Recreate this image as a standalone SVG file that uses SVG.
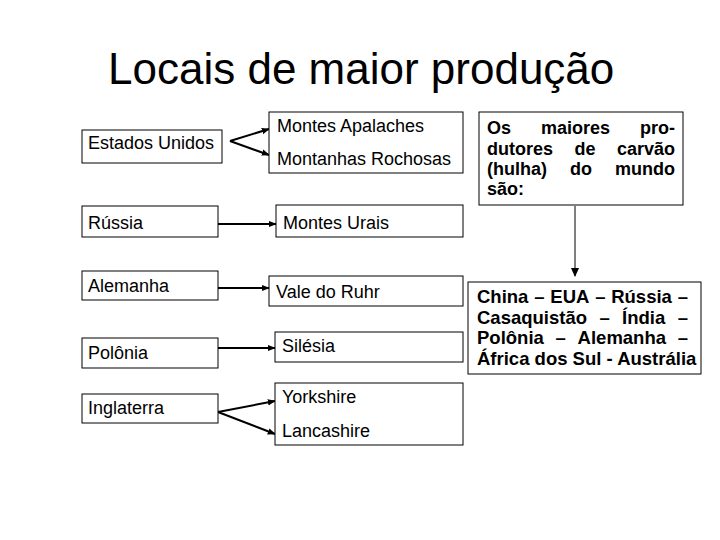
<svg xmlns="http://www.w3.org/2000/svg" width="720" height="540" viewBox="0 0 720 540">
<defs>
<style>
.box{fill:#fff;stroke:#000;stroke-width:1}
.t{font-family:"Liberation Sans",Arial,sans-serif;font-size:18px;fill:#000}
.b{font-family:"Liberation Sans",Arial,sans-serif;font-size:18px;font-weight:bold;fill:#000}
.b2{font-family:"Liberation Sans",Arial,sans-serif;font-size:18.5px;font-weight:bold;fill:#000}
.c{stroke:#000;stroke-width:2;fill:none;marker-end:url(#ah)}
</style>
<marker id="ah" viewBox="0 0 10 10" refX="9" refY="5" markerWidth="4" markerHeight="4" orient="auto" markerUnits="strokeWidth">
<path d="M0,1 L10,5 L0,9 z" fill="#000"/>
</marker>
</defs>
<rect width="720" height="540" fill="#fff"/>
<text x="108" y="84" font-family="Liberation Sans, Arial, sans-serif" font-size="44">Locais de maior produção</text>

<g id="connectors">
<line class="c" x1="230" y1="141" x2="269" y2="129"/>
<line class="c" x1="230" y1="141" x2="269" y2="155"/>
<line class="c" x1="218" y1="224" x2="276" y2="224"/>
<line class="c" x1="218" y1="288" x2="269" y2="288"/>
<line class="c" x1="218" y1="348" x2="275" y2="348"/>
<line class="c" x1="218" y1="412" x2="275" y2="401"/>
<line class="c" x1="218" y1="412" x2="275" y2="434"/>
<line x1="575" y1="206" x2="575" y2="276" stroke="#000" stroke-width="1"/>
<path d="M571,268 L579,268 L575,277 z" fill="#000"/>
</g>

<g id="eua"><rect class="box" x="82" y="130" width="140" height="33"/><text class="t" x="88" y="149">Estados Unidos</text></g>
<g id="eua-montes"><rect class="box" x="269" y="112" width="194" height="61"/><text class="t" x="277" y="132">Montes Apalaches</text><text class="t" x="277" y="165">Montanhas Rochosas</text></g>
<g id="russia"><rect class="box" x="82" y="206" width="136" height="31"/><text class="t" x="88" y="229">Rússia</text></g>
<g id="urais"><rect class="box" x="276" y="205" width="187" height="32"/><text class="t" x="283" y="229">Montes Urais</text></g>
<g id="alemanha"><rect class="box" x="82" y="271" width="136" height="29"/><text class="t" x="88" y="292">Alemanha</text></g>
<g id="ruhr"><rect class="box" x="269" y="276" width="194" height="30"/><text class="t" x="276" y="298">Vale do Ruhr</text></g>
<g id="polonia"><rect class="box" x="82" y="338" width="136" height="30"/><text class="t" x="88" y="359">Polônia</text></g>
<g id="silesia"><rect class="box" x="275" y="332" width="188" height="30"/><text class="t" x="282" y="352">Silésia</text></g>
<g id="inglaterra"><rect class="box" x="82" y="394" width="136" height="29"/><text class="t" x="88" y="414">Inglaterra</text></g>
<g id="ingl-regioes"><rect class="box" x="275" y="383" width="188" height="62"/><text class="t" x="282" y="403">Yorkshire</text><text class="t" x="282" y="437">Lancashire</text></g>

<g id="produtores">
<rect class="box" x="479" y="112" width="204" height="93"/>
<text class="b" y="134"><tspan x="487">Os</tspan><tspan x="541">maiores</tspan><tspan x="640">pro-</tspan></text>
<text class="b" y="155"><tspan x="487">dutores</tspan><tspan x="574.5">de</tspan><tspan x="617">carvão</tspan></text>
<text class="b" y="175"><tspan x="487">(hulha)</tspan><tspan x="570">do</tspan><tspan x="615">mundo</tspan></text>
<text class="b" x="487" y="195">são:</text>
</g>

<g id="lista">
<rect class="box" x="468" y="282" width="233" height="92"/>
<text class="b2" y="303"><tspan x="477">China</tspan><tspan x="534.2">–</tspan><tspan x="550.3">EUA</tspan><tspan x="595.2">–</tspan><tspan x="611.2">Rússia</tspan><tspan x="677.7">–</tspan></text>
<text class="b2" y="324"><tspan x="477">Casaquistão</tspan><tspan x="599.4">–</tspan><tspan x="622.1">Índia</tspan><tspan x="677.7">–</tspan></text>
<text class="b2" y="344"><tspan x="477">Polônia</tspan><tspan x="555.6">–</tspan><tspan x="577.6">Alemanha</tspan><tspan x="677.7">–</tspan></text>
<text class="b2" x="477" y="365">África dos Sul - Austrália</text>
</g>
</svg>
